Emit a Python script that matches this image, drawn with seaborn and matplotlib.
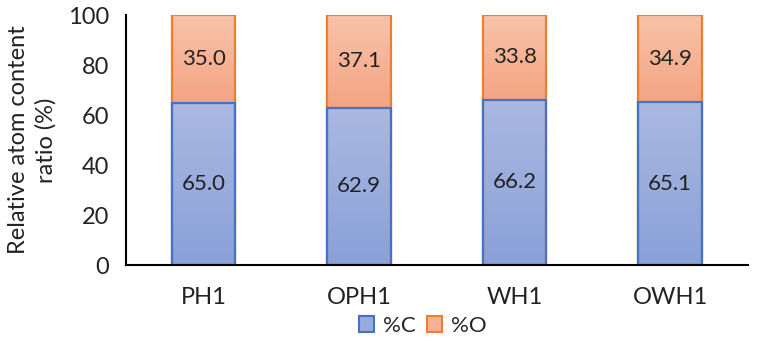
import numpy as np
import matplotlib
matplotlib.use("Agg")
import matplotlib.pyplot as plt
from matplotlib.colors import LinearSegmentedColormap
from matplotlib.patches import Patch
import seaborn as sns

samples = ["PH1", "OPH1", "WH1", "OWH1"]
pct_c = [65.0, 62.9, 66.2, 65.1]
pct_o = [35.0, 37.1, 33.8, 34.9]

sns.set_style("white")
plt.rcParams["font.family"] = ["Lato", "DejaVu Sans"]

fig = plt.figure(figsize=(7.63, 3.42), dpi=100)
ax = fig.add_axes([0.165, 0.225, 0.815, 0.731])

totals = [c + o for c, o in zip(pct_c, pct_o)]
sns.barplot(x=samples, y=totals, color="#F6B394", edgecolor="#ED7D31",
            linewidth=1.6, width=0.41, saturation=1, ax=ax)
sns.barplot(x=samples, y=pct_c, color="#98ABDC", edgecolor="#4472C4",
            linewidth=1.6, width=0.41, saturation=1, ax=ax)

# gradient fills, light at top and darker at bottom
blue_cmap = LinearSegmentedColormap.from_list("b", ["#8AA0D8", "#AAB9E1"])
orange_cmap = LinearSegmentedColormap.from_list("o", ["#F4A483", "#F8C3A9"])
grad = np.linspace(0, 1, 256).reshape(-1, 1)
n = len(samples)
for i, p in enumerate(ax.patches):
    x0, y0 = p.get_x(), p.get_y()
    w, h = p.get_width(), p.get_height()
    if i < n:
        cmap = orange_cmap
        lo, hi = pct_c[i], totals[i]
    else:
        cmap = blue_cmap
        lo, hi = y0, y0 + h
    im = ax.imshow(grad, cmap=cmap, origin="lower", aspect="auto",
                   extent=[x0, x0 + w, lo, hi], zorder=0.8, interpolation="bilinear")
    im.set_clip_path(p)
    p.set_facecolor("none")

ax.set_xlim(-0.5, n - 0.5)
ax.set_ylim(0, 100)
ax.set_yticks(range(0, 101, 20))

txt = "#222222"
for i in range(n):
    ax.text(i, pct_c[i] / 2, f"{pct_c[i]:.1f}", ha="center", va="center",
            fontsize=16, color=txt)
    ax.text(i, pct_c[i] + pct_o[i] / 2, f"{pct_o[i]:.1f}", ha="center",
            va="center", fontsize=16, color=txt)

ax.set_ylabel("Relative atom content\nratio (%)", fontsize=17, color=txt,
              labelpad=8, linespacing=1.35)
ax.set_xlabel("")
ax.tick_params(axis="both", length=0, labelsize=17, colors=txt)
ax.tick_params(axis="x", pad=16)
ax.tick_params(axis="y", pad=12)

for s in ["top", "right"]:
    ax.spines[s].set_visible(False)
for s in ["left", "bottom"]:
    ax.spines[s].set_color("black")
    ax.spines[s].set_linewidth(1.5)

handles = [Patch(facecolor="#98ABDC", edgecolor="#4472C4", linewidth=1.5, label="%C"),
           Patch(facecolor="#F6B394", edgecolor="#ED7D31", linewidth=1.5, label="%O")]
fig.legend(handles=handles, loc="center", bbox_to_anchor=(0.554, 0.047), ncol=2,
           frameon=False, fontsize=16, handlelength=0.7, handleheight=0.7,
           handletextpad=0.4, columnspacing=0.5)

fig.savefig("out.png", dpi=100)
